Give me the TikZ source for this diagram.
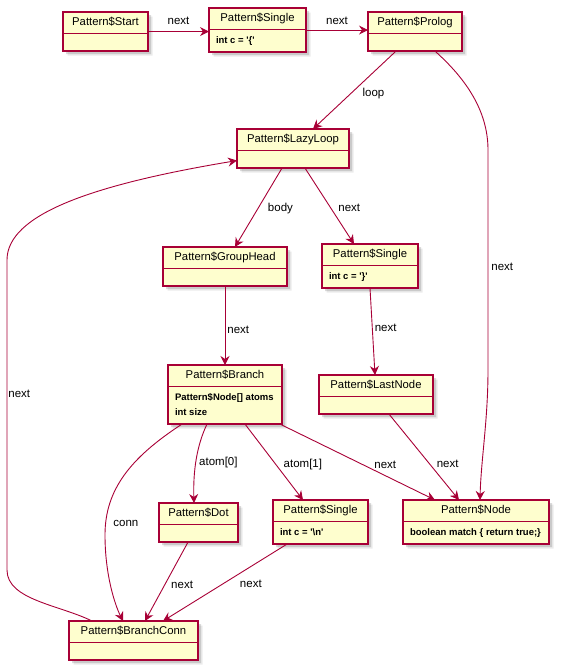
\documentclass[tikz,border=0pt]{standalone}
\usepackage{fontspec}
\setmainfont{Liberation Sans}
\usetikzlibrary{shapes.multipart,shadows,arrows.meta}

\definecolor{umlfill}{HTML}{FEFECE}
\definecolor{umlred}{HTML}{A80036}
\newcommand{\objtitle}[1]{\fontsize{11.3}{14.5}\selectfont\strut #1}
\newcommand{\objattrs}[1]{\fontsize{9.5}{15}\selectfont\bfseries\begin{tabular}{@{}l@{}}#1\end{tabular}}
\newcommand{\objempty}{\rule{0pt}{10pt}}

\begin{document}
\begin{tikzpicture}[x=1pt, y=-1pt, >={Stealth[length=9pt,width=9pt,inset=3pt]},
    obj/.style={rectangle split, rectangle split parts=2,
        rectangle split part align={center,left},
        draw=umlred, line width=1.3pt, fill=umlfill, anchor=north west,
        inner xsep=7pt, inner ysep=3pt, outer sep=0pt,
        drop shadow={shadow xshift=4.5pt, shadow yshift=-4.5pt, opacity=.08, fill=black},
        drop shadow={shadow xshift=3pt, shadow yshift=-3pt, opacity=.14, fill=black}},
    link/.style={->, draw=umlred, line width=0.9pt},
    lbl/.style={font=\fontsize{11.5}{13}\selectfont, inner sep=1pt, text=black}]
        \useasboundingbox (0,0) rectangle (560,667);
        % ==== OBJECTS ====
        \node[obj, minimum width=85pt] (start) at (63,12) {\objtitle{Pattern\$Start}\nodepart{second}\objempty};
        \node[obj, minimum width=97pt] (singleA) at (209,8) {\objtitle{Pattern\$Single}\nodepart{second}\objattrs{int c = \textquotesingle\{\textquotesingle}};
        \node[obj, minimum width=94pt] (prolog) at (368,12) {\objtitle{Pattern\$Prolog}\nodepart{second}\objempty};
        \node[obj, minimum width=112pt] (lazyloop) at (237,129) {\objtitle{Pattern\$LazyLoop}\nodepart{second}\objempty};
        \node[obj, minimum width=124pt] (grouphead) at (163,247) {\objtitle{Pattern\$GroupHead}\nodepart{second}\objempty};
        \node[obj, minimum width=96pt] (singleB) at (322,244) {\objtitle{Pattern\$Single}\nodepart{second}\objattrs{int c = \textquotesingle\}\textquotesingle}};
        \node[obj, minimum width=114pt] (branch) at (168,365) {\objtitle{Pattern\$Branch}\nodepart{second}\objattrs{Pattern\$Node[] atoms\\int size}};
        \node[obj, minimum width=114pt] (lastnode) at (319,375) {\objtitle{Pattern\$LastNode}\nodepart{second}\objempty};
        \node[obj, minimum width=79pt] (dot) at (159,503) {\objtitle{Pattern\$Dot}\nodepart{second}\objempty};
        \node[obj, minimum width=95pt] (singleC) at (273,500) {\objtitle{Pattern\$Single}\nodepart{second}\objattrs{int c = \textquotesingle\textbackslash n\textquotesingle}};
        \node[obj, minimum width=146pt] (patnode) at (403,500) {\objtitle{Pattern\$Node}\nodepart{second}\objattrs{boolean match \{ return true;\}}};
        \node[obj, minimum width=129pt] (branchconn) at (69,621) {\objtitle{Pattern\$BranchConn}\nodepart{second}\objempty};

        % ==== LINKS ====
        \draw[link] (start.east) -- node[lbl, midway, above=5pt] {next} (start.east -| singleA.west);
        \draw[link] (singleA.east) -- node[lbl, midway, above=4pt] {next} (singleA.east -| prolog.west);
        \draw[link] ([xshift=28pt]prolog.south west) -- node[lbl, pos=0.54, anchor=west, xshift=10pt] {loop} ([xshift=76pt]lazyloop.north west);
        \draw[link] ([xshift=67pt]prolog.south west) .. controls (465,78) and (488,110) .. (488,150)
            -- node[lbl, pos=0.53, anchor=west, xshift=2pt] {next} (488,370)
            .. controls (488,420) and (481,460) .. ([xshift=77pt]patnode.north west);
        \draw[link] ([xshift=45pt]lazyloop.south west) -- node[lbl, pos=0.51, anchor=west, xshift=8.5pt] {body} ([xshift=72pt]grouphead.north west);
        \draw[link] ([xshift=68pt]lazyloop.south west) -- node[lbl, pos=0.53, anchor=west, xshift=6pt] {next} ([xshift=32pt]singleB.north west);
        \draw[link] ([xshift=62pt]grouphead.south west) -- node[lbl, pos=0.55, anchor=west, xshift=1pt] {next} ([xshift=57pt]branch.north west);
        \draw[link] ([xshift=48pt]singleB.south west) -- node[lbl, pos=0.46, anchor=west, xshift=1pt] {next} ([xshift=56pt]lastnode.north west);
        \draw[link] ([xshift=39pt]branch.south west) .. controls (197,445) and (193,470) .. node[lbl, pos=0.55, anchor=west, xshift=2pt] {atom[0]} ([xshift=35pt]dot.north west);
        \draw[link] ([xshift=77pt]branch.south west) -- node[lbl, pos=0.53, anchor=west, xshift=6.5pt] {atom[1]} ([xshift=30pt]singleC.north west);
        \draw[link] ([xshift=112pt]branch.south west) -- node[lbl, pos=0.6, anchor=south west] {next} ([xshift=32pt]patnode.north west);
        \draw[link] ([xshift=70pt]lastnode.south west) -- node[lbl, pos=0.58, anchor=west, xshift=5.8pt] {next} ([xshift=56pt]patnode.north west);
        \draw[link] ([xshift=14pt]branch.south west) .. controls (130,458) and (105,490) .. (105,535)
            node[lbl, anchor=west, xshift=7pt, yshift=12pt] {conn}
            .. controls (105,575) and (115,605) .. ([xshift=54pt]branchconn.north west);
        \draw[link] ([xshift=29pt]dot.south west) -- node[lbl, pos=0.54, anchor=west, xshift=5pt] {next} ([xshift=76pt]branchconn.north west);
        \draw[link] ([xshift=14pt]singleC.south west) -- node[lbl, pos=0.52, anchor=west, xshift=16pt] {next} ([xshift=94pt]branchconn.north west);
        \draw[link] ([xshift=23pt]branchconn.north west) .. controls (60,605) and (7,600) .. (7,570)
            -- node[lbl, pos=0.568, anchor=west, xshift=0pt] {next} (7,260)
            .. controls (7,215) and (90,185) .. ([yshift=-12pt]lazyloop.west);
\end{tikzpicture}
\end{document}
